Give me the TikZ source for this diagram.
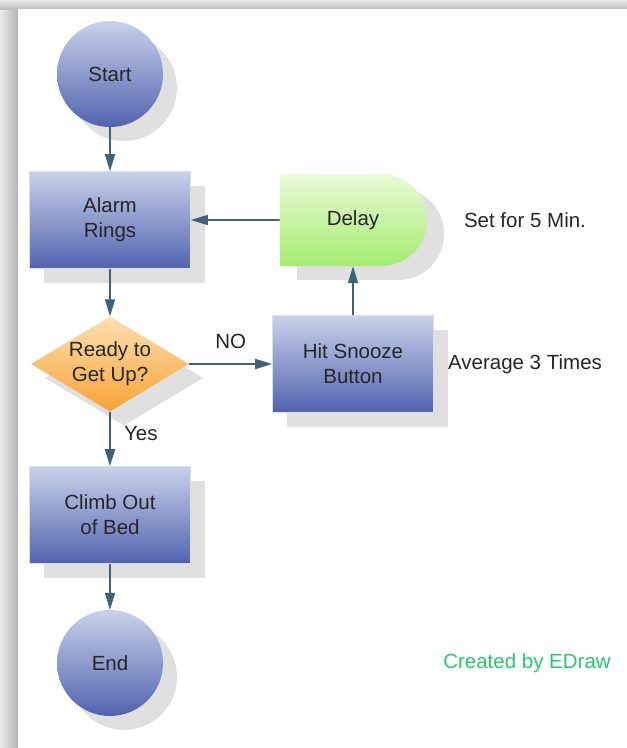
\documentclass[tikz,border=0pt]{standalone}
\usepackage{fontspec}
\setmainfont{Liberation Sans}
\usetikzlibrary{arrows.meta,positioning,shapes.geometric,shapes.misc,shadows}

\definecolor{boxtop}{RGB}{200,210,235}
\definecolor{boxbot}{RGB}{82,99,175}
\definecolor{delaytop}{RGB}{234,250,216}
\definecolor{delaybot}{RGB}{164,236,110}
\definecolor{dectop}{RGB}{253,224,176}
\definecolor{decbot}{RGB}{248,162,54}
\definecolor{linkcol}{RGB}{62,98,122}
\definecolor{edrawgreen}{RGB}{40,200,110}
\definecolor{framegray}{RGB}{216,216,216}

\begin{document}
\begin{tikzpicture}[x=1pt,y=-1pt,node distance=146pt,
                    font=\fontsize{20.5}{25}\selectfont,text=black!85,
                    flow shadow/.style={drop shadow={shadow xshift=14pt,shadow yshift=-14pt,fill=black!12,opacity=1}},
                    process box/.style={rectangle,minimum width=161pt,minimum height=97pt,align=center,
                                        top color=boxtop,bottom color=boxbot,draw=boxtop!70!white,line width=0.6pt,flow shadow},
                    end node/.style={circle,minimum size=106pt,inner sep=0pt,top color=boxtop,bottom color=boxbot,flow shadow},
                    decision/.style={diamond,shape aspect=1.66,minimum width=158pt,minimum height=95pt,inner sep=0pt,
                                     align=center,top color=dectop,bottom color=decbot,flow shadow},
                    delay node/.style={rounded rectangle,rounded rectangle left arc=none,minimum width=154pt,minimum height=92pt,
                                       top color=delaytop,bottom color=delaybot,
                                       drop shadow={shadow xshift=17pt,shadow yshift=-14pt,fill=black!12,opacity=1}},
                    link/.style={-{Triangle[length=17pt,width=10pt]},draw=linkcol,line width=1.6pt}]

  % page frame
  \useasboundingbox (0,0) rectangle (627,748);
  \fill[framegray] (0,0) rectangle (627,748);
  \shade[left color=black!8,right color=black!30] (0,9) rectangle (18,748);
  \shade[top color=black!8,bottom color=black!26] (0,0) rectangle (627,9);
  \fill[white] (18,9) rectangle (627,748);

  \node[end node] (start) at (110,74) {Start};
  \node[process box] (alarm) [below of=start] {Alarm\\Rings};
  \node[decision] (ready) [node distance=144pt,below of=alarm] {Ready to\\Get Up?};
  \node[process box] (climb) [node distance=151pt,below of=ready] {Climb Out\\of Bed};
  \node[end node] (end) [node distance=148pt,below of=climb] {End};

  \node[delay node] (delay) [node distance=243pt,right of=alarm] {Delay};
  \node[process box] (snooze) [node distance=243pt,right of=ready] {Hit Snooze\\Button};

  \node (delaynote) [node distance=172pt,right of=delay] {Set for 5 Min.};
  \node (snoozenote) [node distance=172pt,right of=snooze] {Average 3 Times};
  \node[text=edrawgreen] (credit) [node distance=417pt,right of=end] {Created by EDraw};

  \draw[link] (start) -- (alarm);
  \draw[link] (alarm) -- (ready);
  \draw[link] (ready) -- node[pos=0.4,right=10pt] {Yes} (climb);
  \draw[link] (climb) -- (end);
  \draw[link] (ready) -- node[above=11pt] {NO} (snooze);
  \draw[link] (snooze) -- (delay);
  \draw[link] (delay) -- (alarm);
\end{tikzpicture}
\end{document}
